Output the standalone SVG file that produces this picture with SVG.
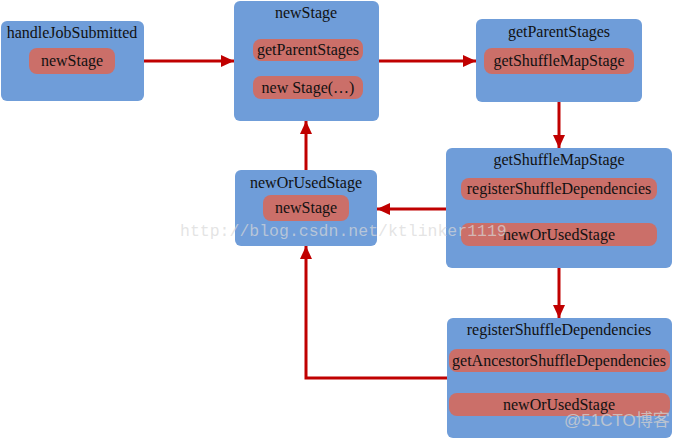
<svg xmlns="http://www.w3.org/2000/svg" width="673" height="439" viewBox="0 0 673 439">
<defs>
<style>
.box{fill:#6F9DD9;}
.pill{fill:#CB6F69;}
.t{font-family:'Liberation Serif','Times New Roman','DejaVu Serif',serif;font-size:16px;fill:#111;text-anchor:middle;}
.conn{stroke:#C00000;stroke-width:3;fill:none;marker-end:url(#ah);}
.wm{font-family:'Liberation Mono','DejaVu Sans Mono',monospace;font-size:16.5px;fill:#d8d8d8;fill-opacity:0.7;}
.wm2{font-family:'Liberation Sans','Noto Sans CJK SC',sans-serif;font-size:17px;fill:#cfcfcf;fill-opacity:0.8;}
</style>
<marker id="ah" markerUnits="userSpaceOnUse" markerWidth="14" markerHeight="14" viewBox="0 0 14 14" refX="13" refY="7" orient="auto">
<path d="M0,1 L13,7 L0,13 z" fill="#C00000"/>
</marker>
</defs>
<g id="connectors">
<line class="conn" x1="144" y1="61" x2="234" y2="61"/>
<line class="conn" x1="379" y1="61" x2="476" y2="61"/>
<line class="conn" x1="559" y1="102" x2="559" y2="148"/>
<line class="conn" x1="446" y1="209" x2="377" y2="209"/>
<line class="conn" x1="306" y1="170" x2="306" y2="121"/>
<polyline class="conn" points="447,378 306,378 306,246"/>
<line class="conn" x1="559" y1="268" x2="559" y2="318"/>
</g>
<g id="handleJobSubmitted">
<rect class="box" x="1" y="21" width="143" height="80" rx="6"/>
<text class="t" x="72" y="38">handleJobSubmitted</text>
<rect class="pill" x="29" y="48" width="86" height="26" rx="8"/>
<text class="t" x="72" y="66">newStage</text>
</g>
<g id="newStage">
<rect class="box" x="234" y="1" width="145" height="120" rx="6"/>
<text class="t" x="306" y="18">newStage</text>
<rect class="pill" x="253" y="39" width="110" height="22" rx="8"/>
<text class="t" x="308" y="55">getParentStages</text>
<rect class="pill" x="253" y="76" width="110" height="23" rx="8"/>
<text class="t" x="308" y="93">new Stage(…)</text>
</g>
<g id="getParentStages">
<rect class="box" x="476" y="19" width="166" height="83" rx="6"/>
<text class="t" x="559" y="37">getParentStages</text>
<rect class="pill" x="484" y="48" width="150" height="26" rx="8"/>
<text class="t" x="559" y="66">getShuffleMapStage</text>
</g>
<g id="getShuffleMapStage">
<rect class="box" x="446" y="148" width="226" height="120" rx="6"/>
<text class="t" x="559" y="165">getShuffleMapStage</text>
<rect class="pill" x="461" y="178" width="196" height="22" rx="8"/>
<text class="t" x="559" y="194">registerShuffleDependencies</text>
<rect class="pill" x="461" y="223" width="196" height="23" rx="8"/>
<text class="t" x="559" y="240">newOrUsedStage</text>
</g>
<g id="newOrUsedStage">
<rect class="box" x="235" y="170" width="142" height="76" rx="6"/>
<text class="t" x="306" y="188">newOrUsedStage</text>
<rect class="pill" x="263" y="195" width="86" height="26" rx="8"/>
<text class="t" x="306" y="213">newStage</text>
</g>
<g id="registerShuffleDependencies">
<rect class="box" x="447" y="318" width="225" height="120" rx="6"/>
<text class="t" x="559" y="335">registerShuffleDependencies</text>
<rect class="pill" x="449" y="349" width="221" height="23" rx="8"/>
<text class="t" x="559" y="366">getAncestorShuffleDependencies</text>
<rect class="pill" x="449" y="393" width="221" height="23" rx="8"/>
<text class="t" x="559" y="410">newOrUsedStage</text>
</g>
<text class="wm" x="180" y="236">http://blog.csdn.net/ktlinker1119</text>
<text class="wm2" x="564" y="426">@51CTO博客</text>
</svg>
